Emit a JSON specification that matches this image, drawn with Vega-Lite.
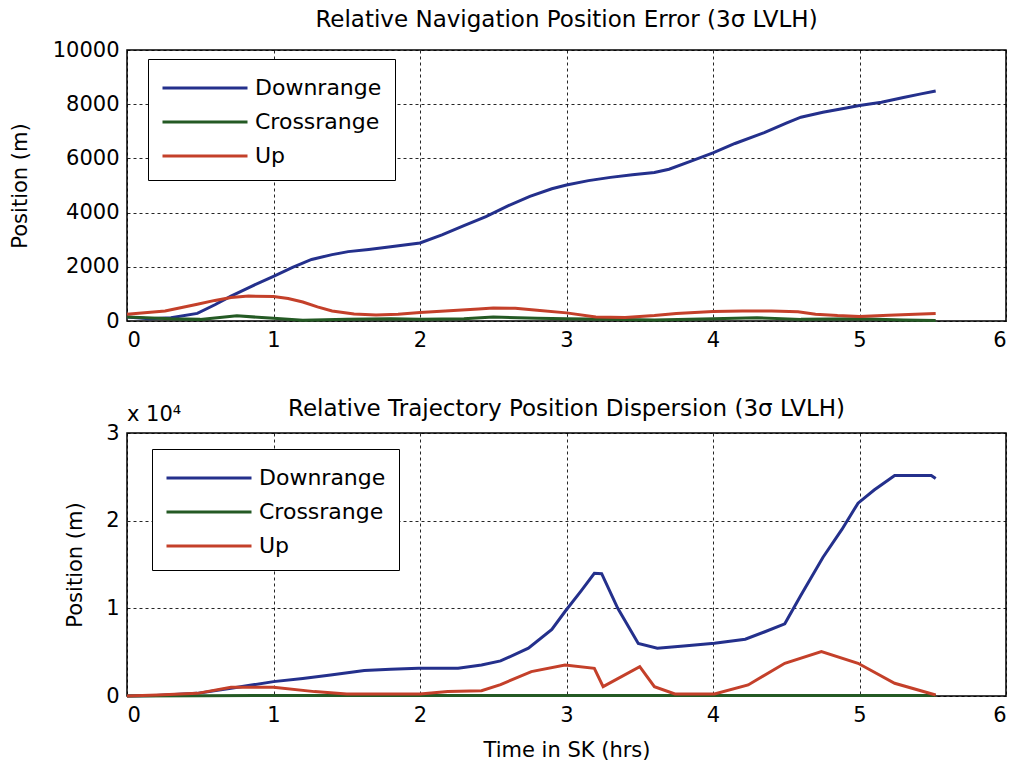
{
  "$schema": "https://vega.github.io/schema/vega-lite/v6.json",
  "background": "white",
  "padding": {"left": 8, "top": 8, "right": 8, "bottom": 4},
  "config": {
    "font": "DejaVu Sans",
    "view": {"stroke": "black", "strokeWidth": 1.5},
    "axis": {
      "labelFont": "DejaVu Sans", "labelFontSize": 21, "labelColor": "black",
      "titleFont": "DejaVu Sans", "titleFontSize": 21, "titleFontWeight": "normal", "titleColor": "black",
      "domain": false, "ticks": false, "grid": true,
      "gridColor": "black", "gridDash": [3, 3], "gridWidth": 1, "gridOpacity": 0.85,
      "labelPadding": 8
    },
    "axisY": {"titlePadding": 20},
    "axisX": {"titlePadding": 14},
    "title": {"font": "DejaVu Sans", "fontSize": 23, "fontWeight": "normal", "color": "black", "offset": 7},
    "legend": {
      "title": null, "orient": "none",
      "symbolType": "M-3,0H3", "symbolSize": 803, "symbolStrokeWidth": 3, "symbolOffset": 28,
      "labelFont": "DejaVu Sans", "labelFontSize": 22, "labelColor": "black",
      "labelOffset": 34, "labelLimit": 300,
      "rowPadding": 7, "padding": 13,
      "strokeColor": "black", "fillColor": "white"
    },
    "concat": {"spacing": 46}
  },
  "datasets": {
    "nav": [
      {"t": 0, "series": "Downrange", "value": 150},
      {"t": 0.15, "series": "Downrange", "value": 80},
      {"t": 0.3, "series": "Downrange", "value": 120},
      {"t": 0.48, "series": "Downrange", "value": 280},
      {"t": 0.6, "series": "Downrange", "value": 600},
      {"t": 0.71, "series": "Downrange", "value": 920},
      {"t": 0.85, "series": "Downrange", "value": 1280},
      {"t": 1.0, "series": "Downrange", "value": 1650},
      {"t": 1.13, "series": "Downrange", "value": 1980},
      {"t": 1.26, "series": "Downrange", "value": 2270},
      {"t": 1.4, "series": "Downrange", "value": 2450},
      {"t": 1.51, "series": "Downrange", "value": 2560},
      {"t": 1.65, "series": "Downrange", "value": 2640},
      {"t": 1.8, "series": "Downrange", "value": 2740},
      {"t": 2.0, "series": "Downrange", "value": 2880},
      {"t": 2.15, "series": "Downrange", "value": 3180},
      {"t": 2.3, "series": "Downrange", "value": 3520},
      {"t": 2.45, "series": "Downrange", "value": 3850},
      {"t": 2.6, "series": "Downrange", "value": 4250},
      {"t": 2.75, "series": "Downrange", "value": 4600},
      {"t": 2.9, "series": "Downrange", "value": 4880},
      {"t": 3.0, "series": "Downrange", "value": 5020},
      {"t": 3.15, "series": "Downrange", "value": 5180},
      {"t": 3.3, "series": "Downrange", "value": 5300},
      {"t": 3.45, "series": "Downrange", "value": 5400},
      {"t": 3.6, "series": "Downrange", "value": 5480},
      {"t": 3.7, "series": "Downrange", "value": 5600},
      {"t": 3.85, "series": "Downrange", "value": 5900},
      {"t": 4.0, "series": "Downrange", "value": 6200},
      {"t": 4.15, "series": "Downrange", "value": 6550},
      {"t": 4.35, "series": "Downrange", "value": 6950},
      {"t": 4.5, "series": "Downrange", "value": 7300},
      {"t": 4.6, "series": "Downrange", "value": 7520},
      {"t": 4.75, "series": "Downrange", "value": 7700},
      {"t": 4.9, "series": "Downrange", "value": 7850},
      {"t": 5.0, "series": "Downrange", "value": 7950},
      {"t": 5.15, "series": "Downrange", "value": 8070},
      {"t": 5.3, "series": "Downrange", "value": 8250},
      {"t": 5.42, "series": "Downrange", "value": 8380},
      {"t": 5.52, "series": "Downrange", "value": 8490},
      {"t": 0, "series": "Crossrange", "value": 150},
      {"t": 0.3, "series": "Crossrange", "value": 80},
      {"t": 0.5, "series": "Crossrange", "value": 60},
      {"t": 0.75, "series": "Crossrange", "value": 190},
      {"t": 1.0, "series": "Crossrange", "value": 100},
      {"t": 1.2, "series": "Crossrange", "value": 30},
      {"t": 1.5, "series": "Crossrange", "value": 60},
      {"t": 1.8, "series": "Crossrange", "value": 80},
      {"t": 2.0, "series": "Crossrange", "value": 60},
      {"t": 2.3, "series": "Crossrange", "value": 80},
      {"t": 2.5, "series": "Crossrange", "value": 150},
      {"t": 2.8, "series": "Crossrange", "value": 100},
      {"t": 3.0, "series": "Crossrange", "value": 80},
      {"t": 3.3, "series": "Crossrange", "value": 60},
      {"t": 3.6, "series": "Crossrange", "value": 40},
      {"t": 4.0, "series": "Crossrange", "value": 80},
      {"t": 4.3, "series": "Crossrange", "value": 120},
      {"t": 4.6, "series": "Crossrange", "value": 60},
      {"t": 5.0, "series": "Crossrange", "value": 80},
      {"t": 5.3, "series": "Crossrange", "value": 40},
      {"t": 5.52, "series": "Crossrange", "value": 20},
      {"t": 0, "series": "Up", "value": 250},
      {"t": 0.26, "series": "Up", "value": 370},
      {"t": 0.48, "series": "Up", "value": 620},
      {"t": 0.6, "series": "Up", "value": 760},
      {"t": 0.71, "series": "Up", "value": 870},
      {"t": 0.83, "series": "Up", "value": 920},
      {"t": 1.0, "series": "Up", "value": 900},
      {"t": 1.1, "series": "Up", "value": 830},
      {"t": 1.2, "series": "Up", "value": 700},
      {"t": 1.3, "series": "Up", "value": 520},
      {"t": 1.4, "series": "Up", "value": 370},
      {"t": 1.55, "series": "Up", "value": 260},
      {"t": 1.7, "series": "Up", "value": 220},
      {"t": 1.85, "series": "Up", "value": 250},
      {"t": 2.0, "series": "Up", "value": 310},
      {"t": 2.2, "series": "Up", "value": 380},
      {"t": 2.4, "series": "Up", "value": 440},
      {"t": 2.5, "series": "Up", "value": 480},
      {"t": 2.65, "series": "Up", "value": 470},
      {"t": 2.8, "series": "Up", "value": 400},
      {"t": 3.0, "series": "Up", "value": 300},
      {"t": 3.2, "series": "Up", "value": 150},
      {"t": 3.4, "series": "Up", "value": 130},
      {"t": 3.6, "series": "Up", "value": 200},
      {"t": 3.75, "series": "Up", "value": 280},
      {"t": 4.0, "series": "Up", "value": 350},
      {"t": 4.2, "series": "Up", "value": 370},
      {"t": 4.4, "series": "Up", "value": 370},
      {"t": 4.58, "series": "Up", "value": 340},
      {"t": 4.7, "series": "Up", "value": 250},
      {"t": 4.85, "series": "Up", "value": 200},
      {"t": 5.0, "series": "Up", "value": 170},
      {"t": 5.2, "series": "Up", "value": 210},
      {"t": 5.38, "series": "Up", "value": 250},
      {"t": 5.52, "series": "Up", "value": 280}
    ],
    "traj": [
      {"t": 0, "series": "Downrange", "value": 0},
      {"t": 0.2, "series": "Downrange", "value": 50},
      {"t": 0.48, "series": "Downrange", "value": 300},
      {"t": 0.71, "series": "Downrange", "value": 880},
      {"t": 1.0, "series": "Downrange", "value": 1640},
      {"t": 1.2, "series": "Downrange", "value": 2000},
      {"t": 1.39, "series": "Downrange", "value": 2400},
      {"t": 1.62, "series": "Downrange", "value": 2900},
      {"t": 1.8, "series": "Downrange", "value": 3050},
      {"t": 1.99, "series": "Downrange", "value": 3160},
      {"t": 2.26, "series": "Downrange", "value": 3160},
      {"t": 2.42, "series": "Downrange", "value": 3540},
      {"t": 2.55, "series": "Downrange", "value": 4000},
      {"t": 2.74, "series": "Downrange", "value": 5450},
      {"t": 2.9, "series": "Downrange", "value": 7600},
      {"t": 2.99, "series": "Downrange", "value": 9640},
      {"t": 3.1, "series": "Downrange", "value": 12000},
      {"t": 3.19, "series": "Downrange", "value": 14000},
      {"t": 3.24, "series": "Downrange", "value": 13950},
      {"t": 3.35, "series": "Downrange", "value": 10000},
      {"t": 3.49, "series": "Downrange", "value": 6000},
      {"t": 3.62, "series": "Downrange", "value": 5450},
      {"t": 3.8, "series": "Downrange", "value": 5700},
      {"t": 4.01, "series": "Downrange", "value": 6020},
      {"t": 4.22, "series": "Downrange", "value": 6480},
      {"t": 4.35, "series": "Downrange", "value": 7300},
      {"t": 4.49, "series": "Downrange", "value": 8230},
      {"t": 4.6, "series": "Downrange", "value": 11500},
      {"t": 4.75, "series": "Downrange", "value": 15800},
      {"t": 4.88, "series": "Downrange", "value": 19000},
      {"t": 4.99, "series": "Downrange", "value": 22000},
      {"t": 5.1, "series": "Downrange", "value": 23500},
      {"t": 5.24, "series": "Downrange", "value": 25150},
      {"t": 5.49, "series": "Downrange", "value": 25150},
      {"t": 5.52, "series": "Downrange", "value": 24800},
      {"t": 0, "series": "Crossrange", "value": 0},
      {"t": 0.5, "series": "Crossrange", "value": 40},
      {"t": 1.0, "series": "Crossrange", "value": 50},
      {"t": 2.0, "series": "Crossrange", "value": 50},
      {"t": 3.0, "series": "Crossrange", "value": 60},
      {"t": 4.0, "series": "Crossrange", "value": 60},
      {"t": 5.0, "series": "Crossrange", "value": 60},
      {"t": 5.52, "series": "Crossrange", "value": 50},
      {"t": 0, "series": "Up", "value": 0},
      {"t": 0.21, "series": "Up", "value": 110},
      {"t": 0.48, "series": "Up", "value": 300},
      {"t": 0.71, "series": "Up", "value": 990},
      {"t": 1.0, "series": "Up", "value": 990},
      {"t": 1.28, "series": "Up", "value": 500},
      {"t": 1.5, "series": "Up", "value": 230},
      {"t": 2.0, "series": "Up", "value": 230},
      {"t": 2.19, "series": "Up", "value": 500},
      {"t": 2.42, "series": "Up", "value": 610},
      {"t": 2.55, "series": "Up", "value": 1300},
      {"t": 2.76, "series": "Up", "value": 2780},
      {"t": 2.99, "series": "Up", "value": 3540},
      {"t": 3.19, "series": "Up", "value": 3160},
      {"t": 3.25, "series": "Up", "value": 1070},
      {"t": 3.5, "series": "Up", "value": 3350},
      {"t": 3.6, "series": "Up", "value": 1070},
      {"t": 3.74, "series": "Up", "value": 230},
      {"t": 4.01, "series": "Up", "value": 230},
      {"t": 4.24, "series": "Up", "value": 1260},
      {"t": 4.49, "series": "Up", "value": 3730},
      {"t": 4.74, "series": "Up", "value": 5070},
      {"t": 4.99, "series": "Up", "value": 3730},
      {"t": 5.24, "series": "Up", "value": 1450},
      {"t": 5.52, "series": "Up", "value": 110}
    ],
    "multiplier": [{"label": "x 10⁴"}]
  },
  "resolve": {"scale": {"color": "independent"}},
  "vconcat": [
    {
      "width": 879,
      "height": 271,
      "title": "Relative Navigation Position Error (3σ LVLH)",
      "data": {"name": "nav"},
      "mark": {"type": "line", "strokeWidth": 3},
      "encoding": {
        "x": {
          "field": "t", "type": "quantitative",
          "scale": {"domain": [0, 6], "nice": false},
          "axis": {"values": [0, 1, 2, 3, 4, 5, 6], "format": "d", "title": null}
        },
        "y": {
          "field": "value", "type": "quantitative",
          "scale": {"domain": [0, 10000], "nice": false},
          "axis": {"values": [0, 2000, 4000, 6000, 8000, 10000], "format": "d", "title": "Position (m)", "titlePadding": 22}
        },
        "color": {
          "field": "series", "type": "nominal",
          "scale": {"domain": ["Downrange", "Crossrange", "Up"], "range": ["#24308c", "#245a24", "#c4402a"]},
          "legend": {"legendX": 21, "legendY": 9}
        }
      }
    },
    {
      "width": 879,
      "height": 263,
      "title": {"text": "Relative Trajectory Position Dispersion (3σ LVLH)", "offset": -17},
      "layer": [
        {
          "data": {"name": "traj"},
          "mark": {"type": "line", "strokeWidth": 3},
          "encoding": {
            "x": {
              "field": "t", "type": "quantitative",
              "scale": {"domain": [0, 6], "nice": false},
              "axis": {"values": [0, 1, 2, 3, 4, 5, 6], "format": "d", "title": "Time in SK (hrs)"}
            },
            "y": {
              "field": "value", "type": "quantitative",
              "scale": {"domain": [0, 30000], "nice": false},
              "axis": {"values": [0, 10000, 20000, 30000], "labelExpr": "format(datum.value / 10000, 'd')", "title": "Position (m)"}
            },
            "color": {
              "field": "series", "type": "nominal",
              "scale": {"domain": ["Downrange", "Crossrange", "Up"], "range": ["#24308c", "#245a24", "#c4402a"]},
              "legend": {"legendX": 25, "legendY": 16}
            }
          }
        },
        {
          "data": {"name": "multiplier"},
          "mark": {"type": "text", "align": "left", "baseline": "bottom", "dy": -8, "fontSize": 21, "color": "black"},
          "encoding": {
            "x": {"datum": 0},
            "y": {"datum": 30000},
            "text": {"field": "label"}
          }
        }
      ]
    }
  ]
}
